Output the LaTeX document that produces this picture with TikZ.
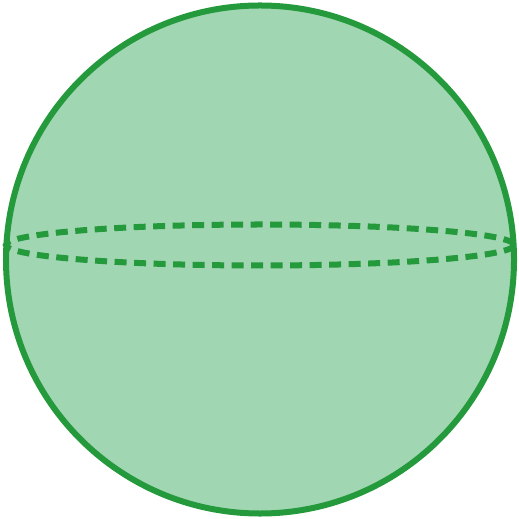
\documentclass[tikz,border=0pt]{standalone}
\definecolor{spheregreen}{HTML}{259A3C}
\definecolor{spherefill}{HTML}{A0D6B2}
\begin{document}
\begin{tikzpicture}[x=0.01cm, y=-0.01cm]
  \useasboundingbox (0,0) rectangle (519,519);

  % centre
  \coordinate (O) at (260,259.5);
  \coordinate (E) at (260,245);

  % sphere
  \draw[spheregreen, fill=spherefill, line width=0.06cm] (O) circle (254);

  % equator
  \draw[spheregreen, line width=0.06cm, dash pattern=on 0.12cm off 0.075cm]
    (E) ellipse (254 and 20.5);
\end{tikzpicture}
\end{document}
